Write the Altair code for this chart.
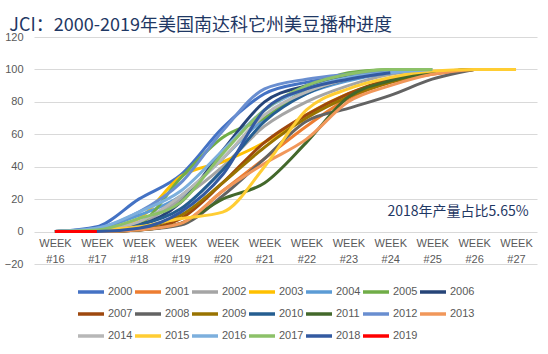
import altair as alt
import pandas as pd

weeks = list(range(16, 28))
y_ticks = [-20, 0, 20, 40, 60, 80, 100, 120]

years = [str(y) for y in range(2000, 2020)]
y2000 = [0, 3, 20, 35, 64, 85, 92, 96, 99]
y2001 = [0, 0, 1, 5, 25, 45, 65, 82, 92, 97, 100]
y2002 = [0, 1, 5, 20, 40, 65, 80, 90, 97, 100]
y2003 = [0, 1, 8, 34, 43, 55, 72, 85, 93, 98, 100]
y2004 = [0, 2, 10, 22, 45, 70, 85, 93, 98, 100]
y2005 = [0, 1, 5, 33, 58, 70, 88, 98, 100]
y2006 = [0, 1, 4, 18, 50, 80, 90, 96, 99]
y2007 = [0, 0, 1, 8, 30, 55, 72, 85, 94, 98, 100]
y2008 = [0, 0, 1, 4, 22, 45, 68, 76, 84, 94, 100]
y2009 = [0, 0, 2, 10, 30, 52, 70, 83, 92, 98, 100]
y2010 = [0, 1, 4, 14, 38, 68, 85, 94, 98, 100]
y2011 = [0, 0, 1, 5, 20, 30, 55, 83, 93, 98, 100]
y2012 = [0, 2, 12, 30, 62, 88, 94, 97, 99]
y2013 = [0, 0, 1, 5, 25, 42, 57, 80, 90, 97, 100]
y2014 = [0, 1, 6, 22, 45, 72, 86, 94, 98, 100]
y2015 = [0, 1, 3, 8, 12, 40, 75, 88, 95, 99, 100, 100]
y2016 = [0, 2, 12, 25, 50, 75, 88, 95, 98, 100]
y2017 = [0, 1, 8, 18, 48, 75, 90, 97, 100, 100]
y2018 = [0, 0, 2, 12, 35, 75, 88, 94, 98]
y2019 = [0, 0]
series = [y2000, y2001, y2002, y2003, y2004, y2005, y2006, y2007, y2008, y2009,
          y2010, y2011, y2012, y2013, y2014, y2015, y2016, y2017, y2018, y2019]

colors = ["#4472C4", "#ED7D31", "#A5A5A5", "#FFC000", "#5B9BD5", "#70AD47", "#264478",
          "#9E480E", "#636363", "#997300", "#255E91", "#43682B", "#698ED0", "#F1975A",
          "#B7B7B7", "#FFCD33", "#7CAFDD", "#8CC168", "#335AA1", "#FF0000"]

note_text = ["2018年产量占比5.65%"]
note_x = [27.3]
note_y = [12]

rows = []
for yr, vals in zip(years, series):
    for w, v in zip(weeks, vals):
        rows.append({"year": yr, "week": w, "value": v})
df = pd.DataFrame(rows)
note_df = pd.DataFrame({"text": note_text, "x": note_x, "y": note_y})

xscale = alt.Scale(domain=[15.5, 27.5], nice=False, zero=False)
yscale = alt.Scale(domain=[-20, 120], nice=False, zero=False)

x_axis = alt.Axis(values=weeks, tickCount=12, title=None, grid=False, domain=False,
                  ticks=False, labelExpr="['WEEK', '#' + datum.value]", labelLineHeight=16,
                  labelPadding=5, offset=-32, labelFontSize=11, labelOverlap=False,
                  labelColor="#595959", labelFont="Liberation Sans")
y_axis = alt.Axis(values=y_ticks, tickCount=8, title=None, domain=False, ticks=False,
                  labelPadding=11, labelFontSize=11, labelOverlap=False,
                  labelColor="#595959", labelFont="Liberation Sans",
                  gridColor="#D9D9D9", gridWidth=1)

lines = alt.Chart(df).mark_line(strokeWidth=3, interpolate="monotone").encode(
    x=alt.X("week:Q", scale=xscale, axis=x_axis),
    y=alt.Y("value:Q", scale=yscale, axis=y_axis),
    color=alt.Color("year:N", scale=alt.Scale(domain=years, range=colors),
                    legend=alt.Legend(title=None, orient="none", legendX=42, legendY=240,
                                      direction="horizontal",
                                      columns=7, symbolType="stroke", symbolSize=676,
                                      symbolStrokeWidth=3.5, labelFontSize=11,
                                      labelColor="#595959", labelFont="Liberation Sans",
                                      labelOffset=2, columnPadding=-11, rowPadding=0)),
    order=alt.Order("year:N"),
    detail="year:N",
)

note = alt.Chart(note_df).mark_text(align="right", baseline="middle", fontSize=14,
                                    font="Noto Sans CJK SC", color="#1F3864").encode(
    x=alt.X("x:Q", scale=xscale, axis=x_axis),
    y=alt.Y("y:Q", scale=yscale, axis=y_axis),
    text="text:N",
)

chart = alt.layer(lines, note).properties(
    width=503, height=227,
    background="white",
    title=alt.TitleParams("JCI：2000-2019年美国南达科它州美豆播种进度", anchor="start",
                          fontSize=18, font="Noto Sans CJK SC", fontWeight="normal",
                          color="#1F3864", dx=5, dy=4, offset=-14, baseline="alphabetic"),
    autosize=alt.AutoSizeParams(type="none"),
    padding={"left": 34, "top": 37, "right": 11, "bottom": 90},
).configure_view(strokeWidth=0, stroke="transparent")

chart.save("out.html", embed_options={"renderer": "svg", "actions": False})
